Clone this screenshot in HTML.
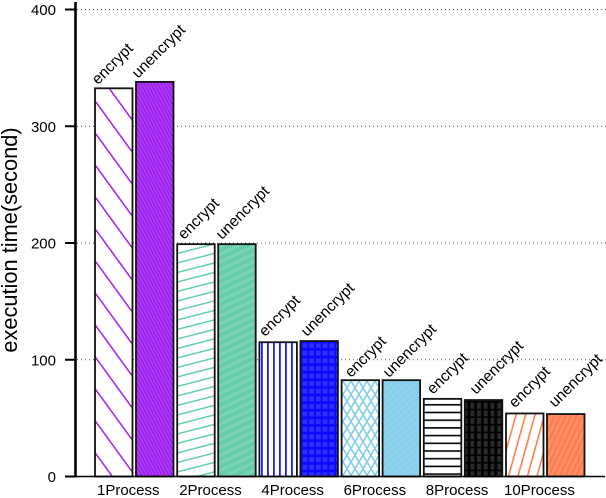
<!DOCTYPE html>
<html>
<head>
<meta charset="utf-8">
<title>Execution time chart</title>
<style>
html,body{margin:0;padding:0;background:#fff;}
svg{display:block;font-family:"Liberation Sans",Arial,sans-serif;}
</style>
</head>
<body>
<svg id="chart" width="606" height="498" viewBox="0 0 606 498" xmlns="http://www.w3.org/2000/svg">
<defs>
  <pattern id="p0" patternUnits="userSpaceOnUse" width="40" height="18.8" patternTransform="translate(95 99.5) rotate(54)"><rect y="0" width="40" height="1.5" fill="#a020f0"/></pattern>
  <pattern id="p1" patternUnits="userSpaceOnUse" width="3" height="3" patternTransform="rotate(62)"><rect width="3" height="3" fill="#a020f0"/><rect width="3" height="1" fill="#b04af2"/></pattern>
  <pattern id="p2" patternUnits="userSpaceOnUse" width="40" height="9.2" patternTransform="translate(178 252.5) rotate(-14.4)"><rect y="0" width="40" height="1.5" fill="#66cdaa"/></pattern>
  <pattern id="p3" patternUnits="userSpaceOnUse" width="7" height="7" patternTransform="rotate(-25)"><rect width="7" height="7" fill="#66cdaa"/><rect width="7" height="3" fill="#7ad3b5"/></pattern>
  <pattern id="p4" patternUnits="userSpaceOnUse" width="6" height="6"><rect x="3" width="1.8" height="6" fill="#1a1aff"/></pattern>
  <pattern id="p5" patternUnits="userSpaceOnUse" width="6.7" height="7.6"><rect width="6.7" height="7.6" fill="#0a0aff"/><rect x="1" y="1.2" width="4.8" height="4.8" fill="#2e2eff"/></pattern>
  <pattern id="p6" patternUnits="userSpaceOnUse" width="8" height="13.5" patternTransform="translate(343 381)"><path d="M0 0L8 13.5M8 0L0 13.5" stroke="#87ceeb" stroke-width="1.7" fill="none"/></pattern>
  <pattern id="p7" patternUnits="userSpaceOnUse" width="5" height="5" patternTransform="rotate(-40)"><rect width="5" height="5" fill="#87ceeb"/><rect width="5" height="2" fill="#90d2ed"/></pattern>
  <pattern id="p8" patternUnits="userSpaceOnUse" width="6" height="7.7" patternTransform="translate(0 402)"><rect y="2" width="6" height="1.6" fill="#000"/></pattern>
  <pattern id="p9" patternUnits="userSpaceOnUse" width="6.7" height="7.6"><rect width="6.7" height="7.6" fill="#000"/><rect x="1.4" y="0" width="3.8" height="6" fill="#2a2a2a"/></pattern>
  <pattern id="p10" patternUnits="userSpaceOnUse" width="40" height="9.15" patternTransform="translate(508 475) rotate(-74.5)"><rect y="0" width="40" height="1.6" fill="#ff7f50"/></pattern>
  <pattern id="p11" patternUnits="userSpaceOnUse" width="5" height="5" patternTransform="rotate(-65)"><rect width="5" height="5" fill="#ff7f50"/><rect width="5" height="2" fill="#ff9068"/></pattern>
</defs>
<g id="grid"></g>
<g id="bars"></g>
<g id="labels"></g>
<g id="axes"></g>
</svg>
<script>
const categories = ['1Process', '2Process', '4Process', '6Process', '8Process', '10Process'];
const seriesNames = ['encrypt', 'unencrypt'];
const encryptValues = [332.5, 199, 115, 82.5, 66.5, 54];
const unencryptValues = [338, 199, 116, 82.5, 65.5, 53.5];
const yTicks = [0, 100, 200, 300, 400];
const yAxisTitle = 'execution time(second)';

const NS = 'http://www.w3.org/2000/svg';
const y0 = 476.5, yTop = 9.5, yMax = 400;
const firstBar = 95, groupPitch = 82.2, barWidth = 37.5, barGap = 41;
const labelNudge = [
  [[3, -3], [6.8, -4], [5.6, -5], [9.4, -2], [9.2, -4], [9, -5]],
  [[2, -3], [3.8, -4], [6.6, -4], [6.4, -2], [11.2, -5], [8, -6]]
];
const categoryNudge = [2, 2, 2, 2, 2, -2];
function yScale(v) { return y0 - (v / yMax) * (y0 - yTop); }
function groupX(i) { return firstBar + i * groupPitch; }
function make(tag, attrs, parent) {
  const el = document.createElementNS(NS, tag);
  for (const k in attrs) el.setAttribute(k, attrs[k]);
  parent.appendChild(el);
  return el;
}
const gridG = document.getElementById('grid');
const barsG = document.getElementById('bars');
const labelsG = document.getElementById('labels');
const axesG = document.getElementById('axes');

yTicks.forEach(function (t) {
  const y = yScale(t);
  if (t > 0) {
    const g = make('line', {x1: 77, x2: 606, y1: y, y2: y, stroke: '#555', 'stroke-width': 1, 'stroke-dasharray': '1 3'}, gridG);
    
    
  }
  const tick = make('line', {x1: 65, x2: 75, y1: y, y2: y, stroke: '#000', 'stroke-width': 2}, axesG);
  
  
  const lab = make('text', {x: 56, y: y + 5.5, 'text-anchor': 'end', 'font-size': 15, fill: '#000'}, axesG);
  lab.textContent = t;
  
  
});

[encryptValues, unencryptValues].forEach(function (vals, s) {
  vals.forEach(function (v, i) {
    const x = groupX(i) + s * barGap;
    const y = yScale(v);
    const bar = make('rect', {x: x, y: y, width: barWidth, height: y0 - y, fill: '#fff', stroke: 'none'}, barsG);
    
    
    const pat = make('rect', {x: x, y: y, width: barWidth, height: y0 - y, fill: 'url(#p' + (i * 2 + s) + ')', stroke: '#111', 'stroke-width': 1.8}, barsG);
    
    
    const lx = x + labelNudge[s][i][0];
    const ly = y + labelNudge[s][i][1];
    const t = make('text', {x: lx, y: ly, 'font-size': 15.5, fill: '#000', transform: 'rotate(-45 ' + lx + ' ' + ly + ')'}, labelsG);
    t.textContent = seriesNames[s];
    
    
  });
});

categories.forEach(function (c, i) {
  const t = make('text', {x: groupX(i) + categoryNudge[i], y: 495, 'font-size': 15, fill: '#000'}, axesG);
  t.textContent = c;
  
  
});

const yAxis = make('line', {x1: 75.5, x2: 75.5, y1: 2, y2: 477.5, stroke: '#000', 'stroke-width': 2.6}, axesG);


const xAxis = make('line', {x1: 65, x2: 605, y1: y0, y2: y0, stroke: '#000', 'stroke-width': 1.4}, axesG);


const title = make('text', {x: 17, y: 240, 'font-size': 21.8, 'text-anchor': 'middle', fill: '#000', transform: 'rotate(-90 17 240)'}, axesG);
title.textContent = yAxisTitle;


</script>
</body>
</html>
